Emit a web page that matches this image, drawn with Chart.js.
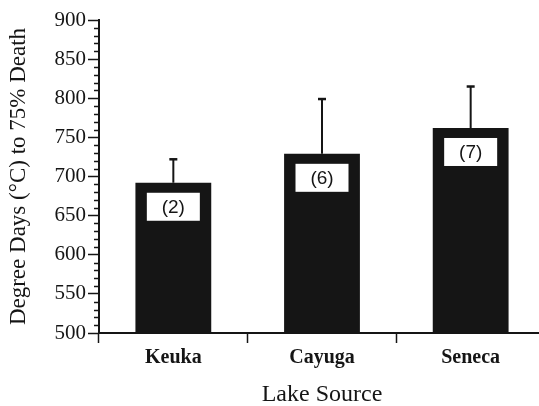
<!DOCTYPE html>
<html>
<head>
<meta charset="utf-8">
<script src="https://cdn.jsdelivr.net/npm/chart.js@4.4.1/dist/chart.umd.min.js"></script>
<style>
  html, body { margin: 0; padding: 0; overflow: hidden; background: #fff; }
  #wrap { width: 545px; height: 406px; }
</style>
</head>
<body>
<div id="wrap"><canvas id="chart"></canvas></div>
<script>
const lakes = ["Keuka", "Cayuga", "Seneca"];
const degreeDays = [692, 729, 762];
const errorUp = [30, 70, 53];
const sampleCounts = [2, 6, 7];

const INK = "#151515";
const SERIF = "'Liberation Serif', 'Times New Roman', serif";

// error bars (upper only) and the white "(n)" boxes inside each bar
const barExtras = {
  id: "barExtras",
  afterDatasetsDraw(chart) {
    const ctx = chart.ctx;
    const y = chart.scales.y;
    const meta = chart.getDatasetMeta(0);
    ctx.save();
    meta.data.forEach((bar, i) => {
      const top = y.getPixelForValue(degreeDays[i] + errorUp[i]);
      ctx.strokeStyle = INK;
      ctx.lineWidth = 2;
      ctx.beginPath();
      ctx.moveTo(bar.x, bar.y);
      ctx.lineTo(bar.x, top);
      ctx.stroke();
      ctx.lineWidth = 2.5;
      ctx.beginPath();
      ctx.moveTo(bar.x - 4, top);
      ctx.lineTo(bar.x + 4, top);
      ctx.stroke();

      const bw = 53, bh = 28;
      ctx.fillStyle = "#fff";
      ctx.fillRect(bar.x - bw / 2, bar.y + 10, bw, bh);
      ctx.fillStyle = INK;
      ctx.font = "19px 'Liberation Sans', Arial, sans-serif";
      ctx.textAlign = "center";
      ctx.textBaseline = "middle";
      ctx.fillText("(" + sampleCounts[i] + ")", bar.x, bar.y + 10 + bh / 2 + 1);
    });
    ctx.restore();
  }
};

// short minor ticks every 10 units on the value axis
const minorTicks = {
  id: "minorTicks",
  afterDraw(chart) {
    const ctx = chart.ctx;
    const y = chart.scales.y;
    const left = chart.chartArea.left;
    ctx.save();
    ctx.strokeStyle = INK;
    ctx.lineWidth = 1.5;
    y.ticks.forEach(t => {
      if (t.value % 50 === 0) return;
      const py = Math.round(y.getPixelForValue(t.value)) + 0.5;
      ctx.beginPath();
      ctx.moveTo(left - 5, py);
      ctx.lineTo(left, py);
      ctx.stroke();
    });
    ctx.restore();
  }
};

new Chart(document.getElementById("chart"), {
  type: "bar",
  data: {
    labels: lakes,
    datasets: [{
      data: degreeDays,
      backgroundColor: INK,
      borderWidth: 0,
      categoryPercentage: 1,
      barPercentage: 0.51
    }]
  },
  options: {
    responsive: true,
    maintainAspectRatio: false,
    animation: false,
    layout: { padding: { top: 20, right: 0, bottom: 0, left: 0 } },
    plugins: { legend: { display: false }, tooltip: { enabled: false } },
    scales: {
      x: {
        afterFit(scale) { scale.height = 73; },
        grid: {
          offset: true,
          drawOnChartArea: false,
          tickLength: 10,
          tickColor: INK,
          tickWidth: 1.5
        },
        border: { color: INK, width: 2 },
        ticks: {
          color: INK,
          padding: 3,
          font: { family: SERIF, size: 20, weight: "bold" }
        },
        title: {
          display: true,
          text: "Lake Source",
          color: INK,
          padding: 0,
          font: { family: SERIF, size: 24, lineHeight: 0.9 }
        }
      },
      y: {
        min: 500,
        max: 900,
        afterFit(scale) { scale.width = 99; },
        grid: {
          drawOnChartArea: false,
          tickLength: 11,
          tickWidth: 1.5,
          tickColor: c => (c.tick && c.tick.value % 50 === 0) ? INK : "rgba(0,0,0,0)"
        },
        border: { color: INK, width: 2 },
        ticks: {
          stepSize: 10,
          autoSkip: false,
          color: INK,
          padding: 2,
          font: { family: SERIF, size: 21 },
          callback: v => (v % 50 === 0 ? String(v) : "")
        },
        title: {
          display: true,
          text: "Degree Days (°C) to 75% Death",
          color: INK,
          padding: { top: 5, bottom: 0 },
          font: { family: SERIF, size: 23, lineHeight: 1.2 }
        }
      }
    }
  },
  plugins: [barExtras, minorTicks]
});
</script>
</body>
</html>
